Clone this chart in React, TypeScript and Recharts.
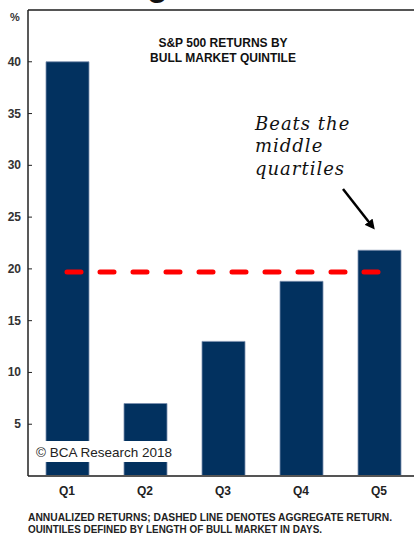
import React from 'react';
import { BarChart, Bar, XAxis, YAxis, ReferenceLine } from 'recharts';

const quintiles = ['Q1', 'Q2', 'Q3', 'Q4', 'Q5'];
const returns = [40, 7, 13, 18.8, 21.8];
const aggregateReturn = 19.7;
const yTicks = [5, 10, 15, 20, 25, 30, 35, 40];
const titleLines = ['S&P 500 RETURNS BY', 'BULL MARKET QUINTILE'];
const noteLines = ['Beats the', 'middle', 'quartiles'];
const footerLines = [
  'ANNUALIZED RETURNS; DASHED LINE DENOTES AGGREGATE RETURN.',
  'QUINTILES DEFINED BY LENGTH OF BULL MARKET IN DAYS.',
];
const footerWidths = [364, 294];

const data = quintiles.map((q, i) => ({ q, value: returns[i] }));

const FONT = '"Liberation Sans", Arial, sans-serif';
const NAVY = '#02315f';

const YTick = (props: any) => {
  const { x, y, payload } = props;
  return (
    <g>
      <line x1={x} x2={x + 4} y1={y} y2={y} stroke="#222" strokeWidth={1} />
      <text x={x - 7} y={y} textAnchor="end" dominantBaseline="central" fontFamily={FONT} fontWeight="bold" fontSize={12} fill="#333">
        {payload.value}
      </text>
    </g>
  );
};

const XTick = (props: any) => {
  const { x, y, payload } = props;
  return (
    <text x={x} y={y + 7} textAnchor="middle" dominantBaseline="central" fontFamily={FONT} fontWeight="bold" fontSize={12} fill="#222">
      {payload.value}
    </text>
  );
};

export default function App() {
  return (
    <div style={{ position: 'fixed', left: 0, top: 0, width: 414, height: 533, overflow: 'hidden', background: '#fff' }}>
      <BarChart
        width={420}
        height={533}
        data={data}
        margin={{ top: 10, right: 2, bottom: 37, left: 0 }}
        barCategoryGap={35}
      >
        <XAxis
          dataKey="q"
          axisLine={{ stroke: '#555', strokeWidth: 2 }}
          tickLine={false}
          tick={<XTick />}
          height={20}
          interval={0}
        />
        <YAxis
          domain={[0, 45]}
          ticks={yTicks}
          width={28}
          axisLine={{ stroke: '#222', strokeWidth: 1.5 }}
          tickLine={false}
          tickSize={0}
          tickMargin={0}
          tick={<YTick />}
        />
        <ReferenceLine y={45} stroke="#555" strokeWidth={2} />
        <Bar dataKey="value" fill={NAVY} stroke="#7b8fae" strokeWidth={0.8} barSize={43} isAnimationActive={false} />
        <ReferenceLine
          segment={[
            { x: 'Q1', y: aggregateReturn },
            { x: 'Q5', y: aggregateReturn },
          ]}
          stroke="#ff0000"
          strokeWidth={5}
          strokeDasharray="14 19"
          strokeLinecap="round"
        />
      </BarChart>

      <svg width={414} height={533} style={{ position: 'absolute', left: 0, top: 0, pointerEvents: 'none' }}>
        <defs>
          <marker id="ah" markerWidth="4" markerHeight="4" refX="2.2" refY="2" orient="auto" markerUnits="strokeWidth">
            <path d="M0,0 L4,2 L0,4 z" fill="#000" />
          </marker>
        </defs>
        <text x={147} y={-4} fontFamily={FONT} fontWeight="bold" fontSize={34} fill="#111">g</text>
        <text x={15} y={17} textAnchor="middle" dominantBaseline="central" fontFamily={FONT} fontWeight="bold" fontSize={11} fill="#333">%</text>
        {titleLines.map((t, i) => (
          <text key={t} x={223} y={43 + i * 15} textAnchor="middle" dominantBaseline="central" fontFamily={FONT} fontWeight="bold" fontSize={12} fill="#111">
            {t}
          </text>
        ))}
        {noteLines.map((t, i) => (
          <text key={t} x={255} y={123 + i * 22.5} dominantBaseline="central" fontFamily='"DejaVu Serif", serif' fontStyle="italic" fontSize={18} letterSpacing={1} fill="#111">
            {t}
          </text>
        ))}
        <line x1={343} y1={189} x2={372} y2={226} stroke="#000" strokeWidth={2.5} markerEnd="url(#ah)" />
        <rect x={33} y={441} width={142} height={21} fill="#fff" />
        <text x={36} y={452} dominantBaseline="central" fontFamily={FONT} fontSize={13.5} fill="#222">
          © BCA Research 2018
        </text>
        {footerLines.map((t, i) => (
          <text
            key={t}
            x={28}
            y={517 + i * 12}
            dominantBaseline="central"
            fontFamily={FONT}
            fontWeight="bold"
            fontSize={10}
            textLength={footerWidths[i]}
            lengthAdjust="spacingAndGlyphs"
            fill="#222"
          >
            {t}
          </text>
        ))}
      </svg>
    </div>
  );
}
